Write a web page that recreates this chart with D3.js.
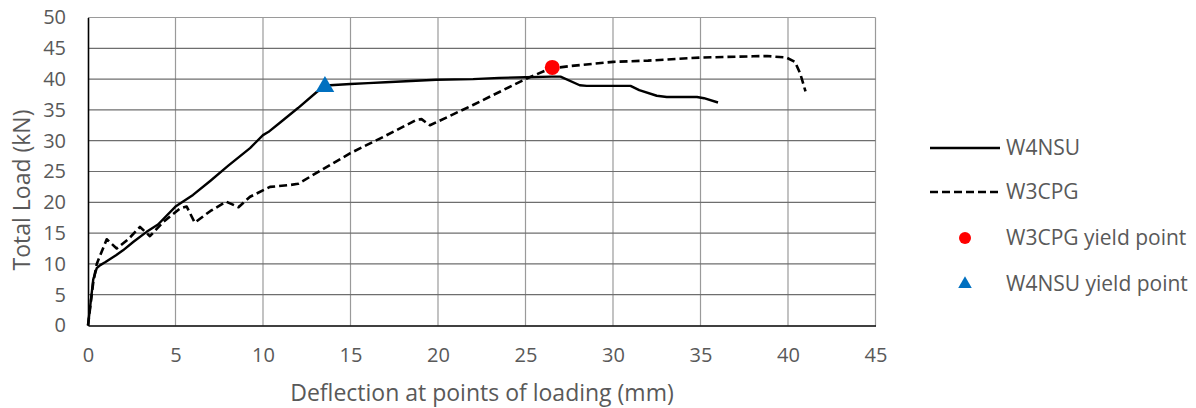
<!DOCTYPE html>
<html>
<head>
<meta charset="utf-8">
<script src="https://cdn.jsdelivr.net/npm/d3@7"></script>
<style>
  html, body { margin: 0; padding: 0; background: #fff; }
  svg { display: block; font-family: "Open Sans", sans-serif; }
</style>
</head>
<body>
<svg id="chart" width="1196" height="408"></svg>
<script>
// ---- data ----
const w4nsuX = [0, 0.3, 0.5, 0.7, 1.0, 1.6, 2.0, 2.6, 3.35, 4.0, 5.0, 6.0, 7.0, 8.0, 9.26, 10.0, 10.3, 11.0, 12.0, 13.07, 13.5, 13.83, 15.0, 16.0, 17.0, 19.9, 22.0, 23.5, 25.0, 26.5, 27.0, 28.1, 28.5, 31.0, 31.5, 32.5, 33.07, 34.8, 35.2, 36.0];
const w4nsuY = [0, 7.5, 9.3, 9.8, 10.3, 11.4, 12.2, 13.6, 15.2, 16.4, 19.3, 21.2, 23.5, 25.9, 28.8, 30.9, 31.4, 33.0, 35.3, 37.9, 38.7, 39.0, 39.2, 39.35, 39.5, 39.9, 40.0, 40.2, 40.3, 40.4, 40.4, 39.0, 38.9, 38.9, 38.2, 37.3, 37.1, 37.1, 36.9, 36.2];
const w3cpgX = [0, 0.3, 0.5, 1.07, 1.64, 2.3, 2.97, 3.54, 4.3, 5.26, 5.64, 6.1, 7.0, 7.9, 8.6, 9.26, 10.4, 11.54, 12.0, 14.97, 17.0, 18.78, 19.06, 19.54, 22.0, 25.07, 26.4, 27.5, 30.0, 32.0, 35.0, 38.0, 38.8, 39.9, 40.4, 40.7, 41.0];
const w3cpgY = [0, 7.0, 10.0, 14.0, 12.5, 14.0, 16.0, 14.5, 16.8, 19.0, 19.3, 16.7, 18.6, 20.1, 19.2, 20.9, 22.5, 22.8, 23.0, 27.95, 30.8, 33.4, 33.5, 32.5, 35.8, 40.1, 41.7, 42.1, 42.8, 43.0, 43.5, 43.7, 43.75, 43.5, 42.8, 40.9, 38.0];
const yieldW3 = [26.53, 41.9];
const yieldW4 = [13.54, 38.76];
const xTicks = [0, 5, 10, 15, 20, 25, 30, 35, 40, 45];
const yTicks = [0, 5, 10, 15, 20, 25, 30, 35, 40, 45, 50];
const legendLabels = ["W4NSU", "W3CPG", "W3CPG yield point", "W4NSU yield point"];

// ---- layout ----
const svg = d3.select("#chart");
const L = 88, R = 875.5, T = 17.5, B = 325.5;
const x = d3.scaleLinear().domain([0, 45]).range([L, R]);
const y = d3.scaleLinear().domain([0, 50]).range([B, T]);
const textCol = "#595959";

// gridlines
svg.append("g").selectAll("line").data(xTicks.filter(d => d > 0)).join("line")
  .attr("x1", d => x(d)).attr("x2", d => x(d)).attr("y1", T).attr("y2", B)
  .attr("stroke", "#9a9a9a").attr("stroke-width", 1.2);
svg.append("g").selectAll("line").data(yTicks.filter(d => d > 0)).join("line")
  .attr("x1", L).attr("x2", R).attr("y1", d => y(d)).attr("y2", d => y(d))
  .attr("stroke", d => d === 50 ? "#9a9a9a" : "#6e6e6e").attr("stroke-width", 1.2);

// axes
const xAxis = svg.append("g").attr("transform", `translate(0,${B})`)
  .call(d3.axisBottom(x).tickValues(xTicks).tickSize(0).tickPadding(22));
const yAxis = svg.append("g").attr("transform", `translate(${L},0)`)
  .call(d3.axisLeft(y).tickValues(yTicks).tickSize(0).tickPadding(22));
[xAxis, yAxis].forEach(g => {
  g.select(".domain").attr("stroke", "#000").attr("stroke-width", 1.6);
  g.selectAll("text").attr("fill", textCol).attr("font-size", 20).attr("font-family", '"Open Sans", sans-serif');
});

// axis titles
svg.append("text").attr("x", 482).attr("y", 401).attr("text-anchor", "middle")
  .attr("font-size", 23).attr("fill", textCol).text("Deflection at points of loading (mm)");
svg.append("text").attr("transform", "translate(30,190) rotate(-90)").attr("text-anchor", "middle")
  .attr("font-size", 23).attr("fill", textCol).text("Total Load (kN)");

// lines
const line = d3.line().x(d => x(d[0])).y(d => y(d[1]));
const w4 = w4nsuX.map((d, i) => [d, w4nsuY[i]]);
const w3 = w3cpgX.map((d, i) => [d, w3cpgY[i]]);
svg.append("path").datum(w3).attr("d", line).attr("fill", "none")
  .attr("stroke", "#000").attr("stroke-width", 2.6).attr("stroke-dasharray", "8,4")
  .attr("stroke-linejoin", "round");
svg.append("path").datum(w4).attr("d", line).attr("fill", "none")
  .attr("stroke", "#000").attr("stroke-width", 2.4).attr("stroke-linejoin", "round");

// yield points
svg.append("circle").attr("cx", x(yieldW3[0])).attr("cy", y(yieldW3[1])).attr("r", 7.5).attr("fill", "#ff0000");
const tri = d3.symbol().type(d3.symbolTriangle).size(150);
svg.append("path").attr("d", tri).attr("transform", `translate(${x(yieldW4[0])},${y(yieldW4[1])})`).attr("fill", "#0070c0");

// legend
const lg = svg.append("g");
const ly = [148, 192, 238, 284];
lg.append("line").attr("x1", 930).attr("x2", 1000).attr("y1", ly[0]).attr("y2", ly[0]).attr("stroke", "#000").attr("stroke-width", 2.4);
lg.append("line").attr("x1", 930).attr("x2", 1000).attr("y1", ly[1]).attr("y2", ly[1]).attr("stroke", "#000").attr("stroke-width", 2.4).attr("stroke-dasharray", "8,4");
lg.append("circle").attr("cx", 965).attr("cy", ly[2]).attr("r", 6).attr("fill", "#ff0000");
lg.append("path").attr("d", d3.symbol().type(d3.symbolTriangle).size(80)).attr("transform", `translate(965,${ly[3]})`).attr("fill", "#0070c0");
lg.selectAll("text").data(legendLabels).join("text")
  .attr("x", 1006).attr("y", (d, i) => ly[i]).attr("dy", "0.35em")
  .attr("font-size", 21).attr("fill", textCol).text(d => d);
</script>
</body>
</html>
